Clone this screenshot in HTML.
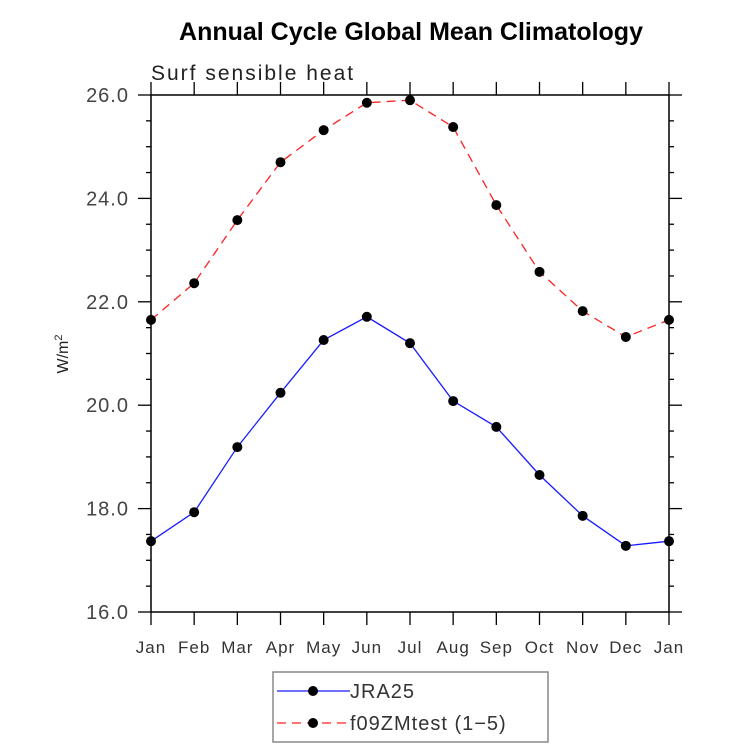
<!DOCTYPE html>
<html><head><meta charset="utf-8"><style>
body{margin:0;background:#fff;}
svg text{font-family:"Liberation Sans",sans-serif;}
</style></head><body>
<svg id="chart" width="733" height="748" xmlns="http://www.w3.org/2000/svg">
<text x="411" y="40" text-anchor="middle" font-size="25" font-weight="bold">Annual Cycle Global Mean Climatology</text>
<text x="151" y="80" font-size="21" fill="#222" style="letter-spacing:2px">Surf sensible heat</text>
<text transform="translate(68,354) rotate(-90)" text-anchor="middle" font-size="16" fill="#222">W/m<tspan dy="-6" font-size="11">2</tspan></text>
<g id="axes"></g>
<g id="series"></g>
<rect x="273" y="672" width="275" height="70" fill="none" stroke="#888" stroke-width="1.5"/>
<g>
<line x1="277" y1="691" x2="350" y2="691" stroke="#1a1aff" stroke-width="1.3"/>
<circle cx="313" cy="691" r="5" fill="#000"/>
<text x="350" y="698" font-size="20" fill="#333" style="letter-spacing:1px">JRA25</text>
</g>
<g>
<line x1="277" y1="723" x2="350" y2="723" stroke="#ff2020" stroke-width="1.3" stroke-dasharray="9,6"/>
<circle cx="313" cy="723" r="5" fill="#000"/>
<text x="350" y="730" font-size="20" fill="#333" style="letter-spacing:1px">f09ZMtest (1−5)</text>
</g>
</svg>
<script>
const months = ["Jan","Feb","Mar","Apr","May","Jun","Jul","Aug","Sep","Oct","Nov","Dec","Jan"];
const jra25 = [17.37,17.93,19.19,20.24,21.26,21.71,21.20,20.08,19.58,18.65,17.86,17.28,17.37];
const f09zm = [21.65,22.36,23.58,24.70,25.32,25.85,25.90,25.38,23.87,22.58,21.82,21.32,21.65];
const yTicks = [16,18,20,22,24,26];
const yTickLabels = ["16.0","18.0","20.0","22.0","24.0","26.0"];
const NS="http://www.w3.org/2000/svg";
const L=151,R=669,T=95,B=612,yMin=16,yMax=26;
const xs=i=>L+(R-L)*i/(months.length-1);
const ys=v=>B-(B-T)*(v-yMin)/(yMax-yMin);
function mk(tag,attrs,parent){const e=document.createElementNS(NS,tag);for(const k in attrs)e.setAttribute(k,attrs[k]);parent.appendChild(e);return e;}
const ax=document.getElementById('axes');
const frame=mk('rect',{x:L,y:T,width:R-L,height:B-T,fill:'none',stroke:'#000','stroke-width':1.5},ax);


for(let v=yMin;v<=yMax+1e-9;v+=0.5){
  const y=ys(v);const major=Math.abs(v-Math.round(v/2)*2)<1e-9;const len=major?13:5;
  mk('line',{x1:L-len,y1:y,x2:L,y2:y,stroke:'#000','stroke-width':1.3},ax);
  mk('line',{x1:R,y1:y,x2:R+len,y2:y,stroke:'#000','stroke-width':1.3},ax);
}
yTicks.forEach((v,i)=>{
  const t=mk('text',{x:L-22,y:ys(v)+7,'text-anchor':'end','font-size':20,fill:'#444',style:'letter-spacing:1px'},ax);
  t.textContent=yTickLabels[i];
  
  
});
months.forEach((m,i)=>{
  const x=xs(i);
  mk('line',{x1:x,y1:B,x2:x,y2:B+13,stroke:'#000','stroke-width':1.3},ax);
  mk('line',{x1:x,y1:T-13,x2:x,y2:T,stroke:'#000','stroke-width':1.3},ax);
  const t=mk('text',{x:x,y:B+41,'text-anchor':'middle','font-size':17,fill:'#333',style:'letter-spacing:1px'},ax);
  t.textContent=m;
  
  
});
const sg=document.getElementById('series');
function series(vals,color,dash,name){
  const g=mk('g',{},sg);
  
  
  const p=mk('polyline',{points:vals.map((v,i)=>xs(i)+','+ys(v)).join(' '),fill:'none',stroke:color,'stroke-width':1.3},g);
  if(dash)p.setAttribute('stroke-dasharray',dash);
  vals.forEach((v,i)=>{
    const c=mk('circle',{cx:xs(i),cy:ys(v),r:5,fill:'#000'},g);
    
    
  });
}
series(f09zm,'#ff2020','9,6','series-f09zmtest');
series(jra25,'#1a1aff',null,'series-jra25');
</script>
</body></html>
